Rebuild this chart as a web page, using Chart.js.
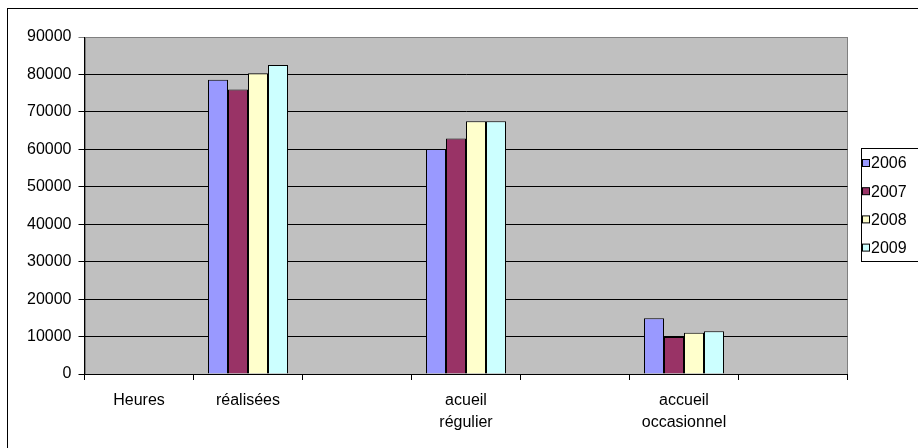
<!DOCTYPE html>
<html lang="fr">
<head>
<meta charset="utf-8">
<title>Heures réalisées 2006-2009</title>
<script src="https://cdn.jsdelivr.net/npm/chart.js@4/dist/chart.umd.min.js"></script>
<style>
    html, body { margin: 0; padding: 0; background: #ffffff; }
    #chartBox { position: relative; width: 918px; height: 448px; }
</style>
</head>
<body>
<div id="chartBox"><canvas id="hoursChart" width="918" height="448"></canvas></div>
<script>
// ========================================
// Data
// ========================================
const categories = ['Heures', 'réalisées', '', ['acueil', 'régulier'], '', ['accueil', 'occasionnel'], ''];
const years = ['2006', '2007', '2008', '2009'];
const values2006 = [null, 78600, null, 60100, null, 14900, null];
const values2007 = [null, 76000, null, 62900, null, 9900, null];
const values2008 = [null, 80300, null, 67500, null, 11000, null];
const values2009 = [null, 82500, null, 67500, null, 11400, null];
const yTicks = [0, 10000, 20000, 30000, 40000, 50000, 60000, 70000, 80000, 90000];

const seriesColors = ['#9999FF', '#993366', '#FFFFCC', '#CCFFFF'];
const FONT = 'Liberation Sans, Arial, sans-serif';

document.addEventListener('DOMContentLoaded', function () {
    initChart();
});

// Grey plot area, outer frame and legend (old Excel look)
const excelFrame = {
    id: 'excelFrame',
    beforeDraw(chart) {
        const ctx = chart.ctx;
        const a = chart.chartArea;
        const left = Math.round(a.left);
        const right = Math.round(a.right);
        ctx.save();
        ctx.fillStyle = '#ffffff';
        ctx.fillRect(0, 0, chart.width, chart.height);
        ctx.fillStyle = '#C0C0C0';
        ctx.fillRect(left, a.top, right - left, a.bottom - a.top);
        ctx.strokeStyle = '#808080';
        ctx.lineWidth = 1;
        ctx.strokeRect(left + 0.5, a.top + 0.5, right - left - 1, a.bottom - a.top);
        ctx.restore();
    },
    afterDraw(chart) {
        const ctx = chart.ctx;
        ctx.save();
        // outer chart border (runs off the picture)
        ctx.strokeStyle = '#000000';
        ctx.lineWidth = 1;
        ctx.strokeRect(7.5, 8.5, 1000, 1000);

        // legend box
        ctx.strokeRect(861.5, 148.5, 100, 113);
        ctx.font = '16px ' + FONT;
        ctx.textBaseline = 'middle';
        chart.data.datasets.forEach((ds, i) => {
            const cy = 163 + i * 28.2;
            ctx.fillStyle = ds.backgroundColor;
            ctx.fillRect(862.5, cy - 3.5, 7, 7);
            ctx.strokeStyle = '#000000';
            ctx.strokeRect(862.5, cy - 3.5, 7, 7);
            ctx.fillStyle = '#000000';
            ctx.fillText(ds.label, 871, cy + 1);
        });
        ctx.restore();
    }
};

function initChart() {
    const ctx = document.getElementById('hoursChart');
    const allValues = [values2006, values2007, values2008, values2009];

    new Chart(ctx, {
        type: 'bar',
        data: {
            labels: categories,
            datasets: years.map((year, i) => ({
                label: year,
                data: allValues[i],
                backgroundColor: seriesColors[i],
                borderColor: '#000000',
                borderWidth: 1,
                borderSkipped: 'bottom',
                categoryPercentage: 80 / 109,
                barPercentage: 1.0
            }))
        },
        options: {
            responsive: false,
            animation: false,
            devicePixelRatio: 1,
            layout: {
                padding: { left: 0, top: 37, right: 70.5, bottom: 0 }
            },
            plugins: {
                legend: { display: false },
                tooltip: { enabled: false }
            },
            scales: {
                x: {
                    afterFit: function (scale) { scale.height = 74; },
                    border: { display: true, color: '#000000', width: 1 },
                    grid: {
                        offset: true,
                        drawOnChartArea: false,
                        drawTicks: true,
                        tickLength: 6,
                        color: '#000000'
                    },
                    ticks: {
                        autoSkip: false,
                        maxRotation: 0,
                        minRotation: 0,
                        padding: 10,
                        color: '#000000',
                        font: { family: FONT, size: 16, lineHeight: 1.375 }
                    }
                },
                y: {
                    min: 0,
                    max: 90000,
                    // half pixel so the bar edges land on whole pixels
                    afterFit: function (scale) { scale.width = 84.5; },
                    afterBuildTicks: function (scale) {
                        scale.ticks = yTicks.map(v => ({ value: v }));
                    },
                    border: { display: true, color: '#000000', width: 1 },
                    grid: {
                        // top line is the grey plot frame in the original
                        color: function (c) {
                            return c.tick && c.tick.value === 90000 ? '#808080' : '#000000';
                        },
                        lineWidth: 1,
                        tickLength: 6
                    },
                    ticks: {
                        padding: 7,
                        color: '#000000',
                        font: { family: FONT, size: 16 },
                        callback: function (value) { return String(value); }
                    }
                }
            }
        },
        plugins: [excelFrame]
    });
}
</script>
</body>
</html>
